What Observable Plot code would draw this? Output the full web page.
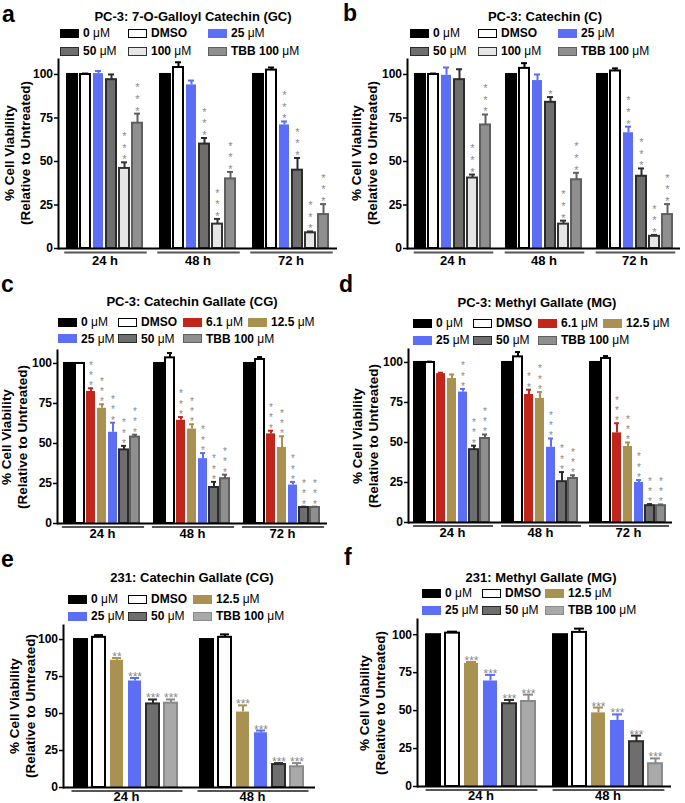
<!DOCTYPE html>
<html><head><meta charset="utf-8">
<script src="https://cdn.jsdelivr.net/npm/d3@7"></script>
<script src="https://cdn.jsdelivr.net/npm/@observablehq/plot@0.6"></script>
<style>
body{margin:0;background:#fff;font-family:"Liberation Sans",Arial,Helvetica,sans-serif;color:#000;}
#fig{position:relative;width:685px;height:803px;overflow:hidden;background:#fff;}
#fig svg{position:absolute;}
.letter{position:absolute;font-weight:bold;font-size:23px;line-height:20px;z-index:2;}
.title{position:absolute;font-weight:bold;font-size:13px;line-height:13px;white-space:nowrap;transform:translateX(-50%);z-index:2;}
.lg{position:absolute;display:flex;align-items:center;height:12px;font-size:12px;line-height:12px;white-space:nowrap;z-index:2;}
.lg b{font-weight:bold;}
.lg .u{font-weight:normal;}
.sw{display:inline-block;width:19px;height:9px;box-sizing:border-box;margin-right:4px;}
.ylab{position:absolute;transform:translate(-50%,-50%) rotate(-90deg);text-align:center;font-weight:bold;font-size:13.5px;line-height:16px;white-space:nowrap;z-index:2;}
</style></head>
<body><div id="fig"></div>
<script>
// ---------------- DATA ----------------
// Panel a: PC-3, 7-O-Galloyl Catechin (GC)
const aTitle = "PC-3: 7-O-Galloyl Catechin (GC)";
const aTimes = ["24 h", "48 h", "72 h"];
const aTreat = ["0 μM", "DMSO", "25 μM", "50 μM", "100 μM", "TBB 100 μM"];
const aMean  = [[100, 100, 100.5, 97, 46, 72], [100, 104, 94, 60, 14, 40], [100, 102.5, 71, 45, 9, 19.5]];
const aErr   = [[0, 0.5, 1.5, 3, 3.5, 5.5], [0, 3, 2.5, 3.5, 3, 4], [0, 1.5, 2, 7, 0.8, 6]];
const aStars = [[0, 0, 0, 0, 3, 3], [0, 0, 0, 3, 3, 3], [0, 0, 3, 3, 3, 3]];

// Panel b: PC-3, Catechin (C)
const bTitle = "PC-3: Catechin (C)";
const bTimes = ["24 h", "48 h", "72 h"];
const bTreat = ["0 μM", "DMSO", "25 μM", "50 μM", "100 μM", "TBB 100 μM"];
const bMean  = [[100, 100, 99.5, 97, 40.5, 71], [100, 103.5, 96.5, 84, 14, 39.5], [100, 102, 66.5, 41.5, 7, 19.5]];
const bErr   = [[0, 0.5, 4.5, 6, 2, 6], [0, 3, 3.5, 3, 2, 4], [0, 1.5, 3.5, 4.5, 0.8, 6]];
const bStars = [[0, 0, 0, 0, 3, 3], [0, 0, 0, 1, 3, 3], [0, 0, 3, 3, 3, 3]];

// Panel c: PC-3, Catechin Gallate (CG)
const cTitle = "PC-3: Catechin Gallate (CG)";
const cTimes = ["24 h", "48 h", "72 h"];
const cTreat = ["0 μM", "DMSO", "6.1 μM", "12.5 μM", "25 μM", "50 μM", "TBB 100 μM"];
const cMean  = [[100, 100, 82.5, 72, 57, 46, 54], [100, 103.5, 64.5, 59, 40.5, 22.5, 28], [100, 102.5, 56, 47.5, 24, 10, 10]];
const cErr   = [[0, 0.3, 2, 2.5, 6, 2.5, 1.5], [0, 3, 2, 3, 3.5, 3.5, 2.5], [0, 1.5, 2, 7, 2, 0.5, 0.5]];
const cStars = [[0, 0, 3, 3, 3, 3, 3], [0, 0, 3, 3, 3, 3, 3], [0, 0, 3, 3, 3, 3, 3]];

// Panel d: PC-3, Methyl Gallate (MG)
const dTitle = "PC-3: Methyl Gallate (MG)";
const dTimes = ["24 h", "48 h", "72 h"];
const dTreat = ["0 μM", "DMSO", "6.1 μM", "12.5 μM", "25 μM", "50 μM", "TBB 100 μM"];
const dMean  = [[100, 100, 93, 90, 81.5, 45.5, 52.5], [100, 103.5, 80, 77.5, 47, 25.5, 27.5], [100, 102.5, 56, 47.5, 25, 10.5, 10.5]];
const dErr   = [[0, 0.5, 0.6, 2.5, 2, 2.5, 2.5], [0, 3, 3, 4, 5.5, 6, 2], [0, 1.5, 6, 2.5, 1.5, 1, 0.8]];
const dStars = [[0, 0, 0, 0, 3, 3, 3], [0, 0, 2, 3, 3, 3, 3], [0, 0, 3, 3, 3, 3, 3]];

// Panel e: 231, Catechin Gallate (CG)
const eTitle = "231: Catechin Gallate (CG)";
const eTimes = ["24 h", "48 h"];
const eTreat = ["0 μM", "DMSO", "12.5 μM", "25 μM", "50 μM", "TBB 100 μM"];
const eMean  = [[100, 101.5, 86, 72, 56.5, 57], [100, 101.5, 51, 37, 15.5, 14]];
const eErr   = [[0, 1.5, 1.5, 2, 3, 2.5], [0, 2, 4.5, 1.5, 1, 2.5]];
const eStars = [[0, 0, 2, 3, 3, 3], [0, 0, 3, 3, 3, 3]];

// Panel f: 231, Methyl Gallate (MG)
const fTitle = "231: Methyl Gallate (MG)";
const fTimes = ["24 h", "48 h"];
const fTreat = ["0 μM", "DMSO", "12.5 μM", "25 μM", "50 μM", "TBB 100 μM"];
const fMean  = [[100, 101, 81, 69.5, 54.5, 56], [100, 101.5, 48.5, 43.5, 29.5, 15]];
const fErr   = [[0, 1, 1, 4, 2.5, 4.5], [0, 2.5, 3.5, 4, 4, 3.5]];
const fStars = [[0, 0, 3, 3, 3, 3], [0, 0, 3, 3, 3, 3]];

const yTicks = [0, 25, 50, 75, 100];
const yLabel = ["% Cell Viability", "(Relative to Untreated)"];

// ---------------- STYLES ----------------
const FONT = '"Liberation Sans", Arial, Helvetica, sans-serif';
const FILL = {"0 μM":"#000000","DMSO":"#ffffff","25 μM":"#5b6ef5","50 μM":"#6e6e6e","100 μM":"#e6e6e6","TBB 100 μM":"#8f8f8f","6.1 μM":"#c1261b","12.5 μM":"#a99152"};
const STROKE = {"0 μM":"#000000","DMSO":"#000000","25 μM":"none","50 μM":"#2b2b2b","100 μM":"#333333","TBB 100 μM":"#5f5f5f","6.1 μM":"none","12.5 μM":"none"};
const ERRC = {"0 μM":"#000000","DMSO":"#000000","25 μM":"#5b6ef5","50 μM":"#2b2b2b","100 μM":"#333333","TBB 100 μM":"#5f5f5f","6.1 μM":"#c1261b","12.5 μM":"#a99152"};
const FILL231 = Object.assign({}, FILL, {"TBB 100 μM":"#a9a9a9"});
const STROKE231 = Object.assign({}, STROKE, {"TBB 100 μM":"#8a8a8a"});
const ERRC231 = Object.assign({}, ERRC, {"TBB 100 μM":"#8a8a8a"});

const panels = [
 {letter:"a", title:aTitle, times:aTimes, treat:aTreat, mean:aMean, err:aErr, stars:aStars, horiz:false, fill:FILL, stroke:STROKE, errc:ERRC,
  L:{left:0, top:40, w:340, h:235, mL:58, mR:3, mT:19, mB:27, ymax:108.6, pi:0.22, po:0.45, fxPad:7, ulDy:4,
     letterXY:[2,3.5], titleXY:[193,10], cols:[60,128,208], rows:[33,51], ylab:[18,153], sFs:11, sLh:1.06}},
 {letter:"b", title:bTitle, times:bTimes, treat:bTreat, mean:bMean, err:bErr, stars:bStars, horiz:false, fill:FILL, stroke:STROKE, errc:ERRC,
  L:{left:340, top:40, w:345, h:235, mL:67, mR:5, mT:19, mB:27, ymax:108.6, pi:0.22, po:0.5, fxPad:7, ulDy:4,
     letterXY:[343,3], titleXY:[545,10], cols:[410,478,558], rows:[33,51], ylab:[365,153], sFs:11, sLh:1.06}},
 {letter:"c", title:cTitle, times:cTimes, treat:cTreat, mean:cMean, err:cErr, stars:cStars, horiz:false, fill:FILL, stroke:STROKE, errc:ERRC,
  L:{left:0, top:330, w:340, h:215, mL:57, mR:13, mT:20, mB:22, ymax:108.1, pi:0.15, po:0.42, fxPad:5, ulDy:3.5,
     letterXY:[1,274], titleXY:[192,295], cols:[58,118,183,248], rows:[322,338.5], ylab:[15,437], sFs:10, sLh:1.03}},
 {letter:"d", title:dTitle, times:dTimes, treat:dTreat, mean:dMean, err:dErr, stars:dStars, horiz:false, fill:FILL, stroke:STROKE, errc:ERRC,
  L:{left:340, top:329, w:345, h:215, mL:68, mR:13, mT:20, mB:22, ymax:108.1, pi:0.16, po:0.44, fxPad:5, ulDy:3.5,
     letterXY:[339,274], titleXY:[537,296], cols:[413,473,538,603], rows:[323,340], ylab:[366,436], sFs:10, sLh:1.03}},
 {letter:"e", title:eTitle, times:eTimes, treat:eTreat, mean:eMean, err:eErr, stars:eStars, horiz:true, fill:FILL231, stroke:STROKE231, errc:ERRC231,
  L:{left:0, top:605, w:340, h:198, mL:63, mR:25, mT:20, mB:16, ymax:109.5, pi:0.26, po:0.447, fxPad:4, ulDy:3.5,
     letterXY:[1,549], titleXY:[192,571], cols:[68,128,193], rows:[599,616], ylab:[23,706], sFs:12, sLh:1}},
 {letter:"f", title:fTitle, times:fTimes, treat:fTreat, mean:fMean, err:fErr, stars:fStars, horiz:true, fill:FILL231, stroke:STROKE231, errc:ERRC231,
  L:{left:340, top:600, w:345, h:203, mL:77, mR:14, mT:19, mB:17, ymax:110, pi:0.26, po:0.45, fxPad:4.5, ulDy:3.5,
     letterXY:[344,547], titleXY:[541,571], cols:[422,482,545], rows:[593,610], ylab:[373,703], sFs:12, sLh:1}}
];

// ---------------- BUILD ----------------
const fig = document.getElementById("fig");

function rows(p) {
  const out = [];
  p.times.forEach((t, i) => p.treat.forEach((tr, j) => {
    out.push({time: t, trt: tr, v: p.mean[i][j], e: p.err[i][j], s: p.stars[i][j]});
  }));
  return out;
}

function makePlot(p) {
  const L = p.L;
  const data = rows(p);
  const errData = data.filter(d => d.e > 0);
  const starData = data.filter(d => d.s > 0);
  const F = (L.w - L.mL - L.mR) / p.times.length;
  const n = p.treat.length;
  const step = F / (n - L.pi + 2 * L.po);
  const off = L.po * step;
  const starText = p.horiz ? (d => "*".repeat(d.s)) : (d => Array(d.s).fill("*").join("\n"));
  const svg = Plot.plot({
    width: L.w, height: L.h,
    marginLeft: L.mL, marginRight: L.mR, marginTop: L.mT, marginBottom: L.mB,
    style: {fontFamily: FONT, background: "transparent", color: "#000", overflow: "visible"},
    fx: {domain: p.times, paddingInner: 0, paddingOuter: 0},
    x: {domain: p.treat, paddingInner: L.pi, paddingOuter: L.po, axis: null},
    y: {domain: [0, L.ymax]},
    color: {type: "identity"},
    marks: [
      Plot.ruleY([0], {dy: L.ulDy, stroke: "#555", strokeWidth: 2, insetLeft: off, insetRight: Math.max(0, off - 2)}),
      Plot.barY(data, {fx: "time", x: "trt", y: "v", fill: d => p.fill[d.trt], stroke: d => p.stroke[d.trt], strokeWidth: 2}),
      Plot.ruleX(errData, {fx: "time", x: "trt", y1: "v", y2: d => d.v + d.e, stroke: d => p.errc[d.trt], strokeWidth: 2}),
      Plot.tickY(errData, {fx: "time", x: "trt", y: d => d.v + d.e, stroke: d => p.errc[d.trt], strokeWidth: 2, insetLeft: 2, insetRight: 2}),
      Plot.text(starData, {fx: "time", x: "trt", y: d => d.v + d.e, text: starText, lineAnchor: "bottom",
        fontSize: L.sFs, lineHeight: L.sLh, fill: "#8a8a8a", dy: p.horiz ? 3 : 1}),
      Plot.ruleY([0], {strokeWidth: 2}),
      Plot.frame({anchor: "left", facetAnchor: "left", strokeWidth: 2}),
      Plot.axisY({ticks: yTicks, tickSize: 4, tickPadding: 1.5, fontSize: 12, fontWeight: "bold", label: null, strokeWidth: 1.5}),
      Plot.axisFx({anchor: "bottom", tickSize: 0, tickPadding: L.fxPad, fontSize: 13, fontWeight: "bold", label: null})
    ]
  });
  svg.style.left = L.left + "px";
  svg.style.top = L.top + "px";
  return svg;
}

function el(cls, html, left, top) {
  const d = document.createElement("div");
  d.className = cls;
  d.innerHTML = html;
  d.style.left = left + "px";
  d.style.top = top + "px";
  return d;
}

function legendLabel(t) {
  if (t.endsWith(" μM")) return "<b>" + t.slice(0, -3) + "</b><span class='u'>&nbsp;μM</span>";
  return "<b>" + t + "</b>";
}

for (const p of panels) {
  const L = p.L;
  fig.appendChild(makePlot(p));
  fig.appendChild(el("letter", p.letter, L.letterXY[0], L.letterXY[1]));
  fig.appendChild(el("title", p.title, L.titleXY[0], L.titleXY[1]));
  const nc = L.cols.length;
  p.treat.forEach((t, i) => {
    const c = i % nc, r = Math.floor(i / nc);
    const st = p.stroke[t];
    const border = st === "none" ? "none" : "1.5px solid " + st;
    const html = "<span class='sw' style='background:" + p.fill[t] + ";border:" + border + "'></span>" + legendLabel(t);
    fig.appendChild(el("lg", html, L.cols[c], L.rows[r] - 6));
  });
  fig.appendChild(el("ylab", yLabel.join("<br>"), L.ylab[0], L.ylab[1]));
}
</script>
</body></html>
